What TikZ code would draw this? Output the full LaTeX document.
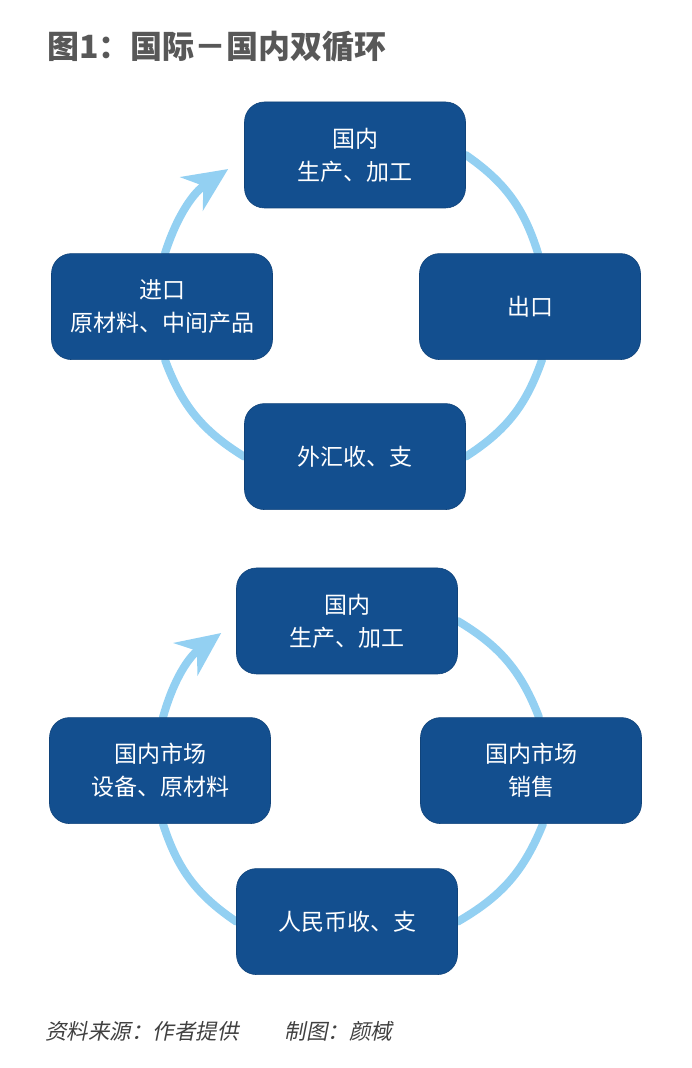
\documentclass[tikz,border=0pt]{standalone}
\usepackage{fontspec}
\setmainfont{Noto Sans CJK SC}
\newfontfamily\notefont{Noto Sans CJK SC}[FakeSlant=0.2]
\usetikzlibrary{positioning}
\usetikzlibrary{arrows.meta}
\usetikzlibrary{backgrounds}
\definecolor{boxblue}{RGB}{19,79,143}
\definecolor{ringblue}{RGB}{147,208,242}
\definecolor{titlegray}{RGB}{88,88,88}

\begin{document}
\begin{tikzpicture}[x=1pt, y=1pt,
	box/.style={draw=boxblue!85!black, fill=boxblue, line width=0.6pt, rounded corners=20pt, minimum width=221pt, minimum height=106pt, text=white, align=center, font=\fontsize{23}{33}\selectfont},
	ring/.style={draw=ringblue, line width=8pt, line cap=round, bend left=19},
	head/.style={-{Stealth[length=44pt, width=40pt, inset=14pt]}}]
		\useasboundingbox (0,0) rectangle (692,1068);
		\node (title) [anchor=west, inner sep=0pt, text=titlegray, font=\bfseries\fontsize{32}{32}\selectfont] at (47,1021) {图1：国际－国内双循环};
		\node (a1) [box] at (355,913) {国内\\生产、加工};
		\node (a2) [box, below=45pt of a1, xshift=175pt] {出口};
		\node (a3) [box, below=195pt of a1] {外汇收、支};
		\node (a4) [box, below=45pt of a1, xshift=-193pt] {进口\\原材料、中间产品};
		\coordinate (a5) at ([xshift=-16pt, yshift=-14pt]a1.west);
		\node (b1) [box] at (347,447) {国内\\生产、加工};
		\node (b2) [box, below=43pt of b1, xshift=184pt] {国内市场\\销售};
		\node (b3) [box, below=194pt of b1] {人民币收、支};
		\node (b4) [box, below=43pt of b1, xshift=-187pt] {国内市场\\设备、原材料};
		\coordinate (b5) at ([xshift=-15pt, yshift=-12pt]b1.west);
		\node (note) [anchor=west, inner sep=0pt, text=black!75, font=\notefont\fontsize{21.5}{21.5}\selectfont] at (45,37) {资料来源：作者提供\hspace{46pt}制图：颜棫};
		\begin{scope}[on background layer]
		\draw [ring] (a1.east) to ([xshift=8pt]a2.north);
		\draw [ring] ([xshift=12pt]a2.south) to (a3.east);
		\draw [ring] (a3.west) to ([xshift=3pt]a4.south);
		\draw [ring, head] ([xshift=3pt]a4.north) to (a5);
		\draw [ring] (b1.east) to ([xshift=8pt]b2.north);
		\draw [ring] ([xshift=12pt]b2.south) to (b3.east);
		\draw [ring] (b3.west) to ([xshift=3pt]b4.south);
		\draw [ring, head] ([xshift=3pt]b4.north) to (b5);
		\end{scope}
\end{tikzpicture}
\end{document}
